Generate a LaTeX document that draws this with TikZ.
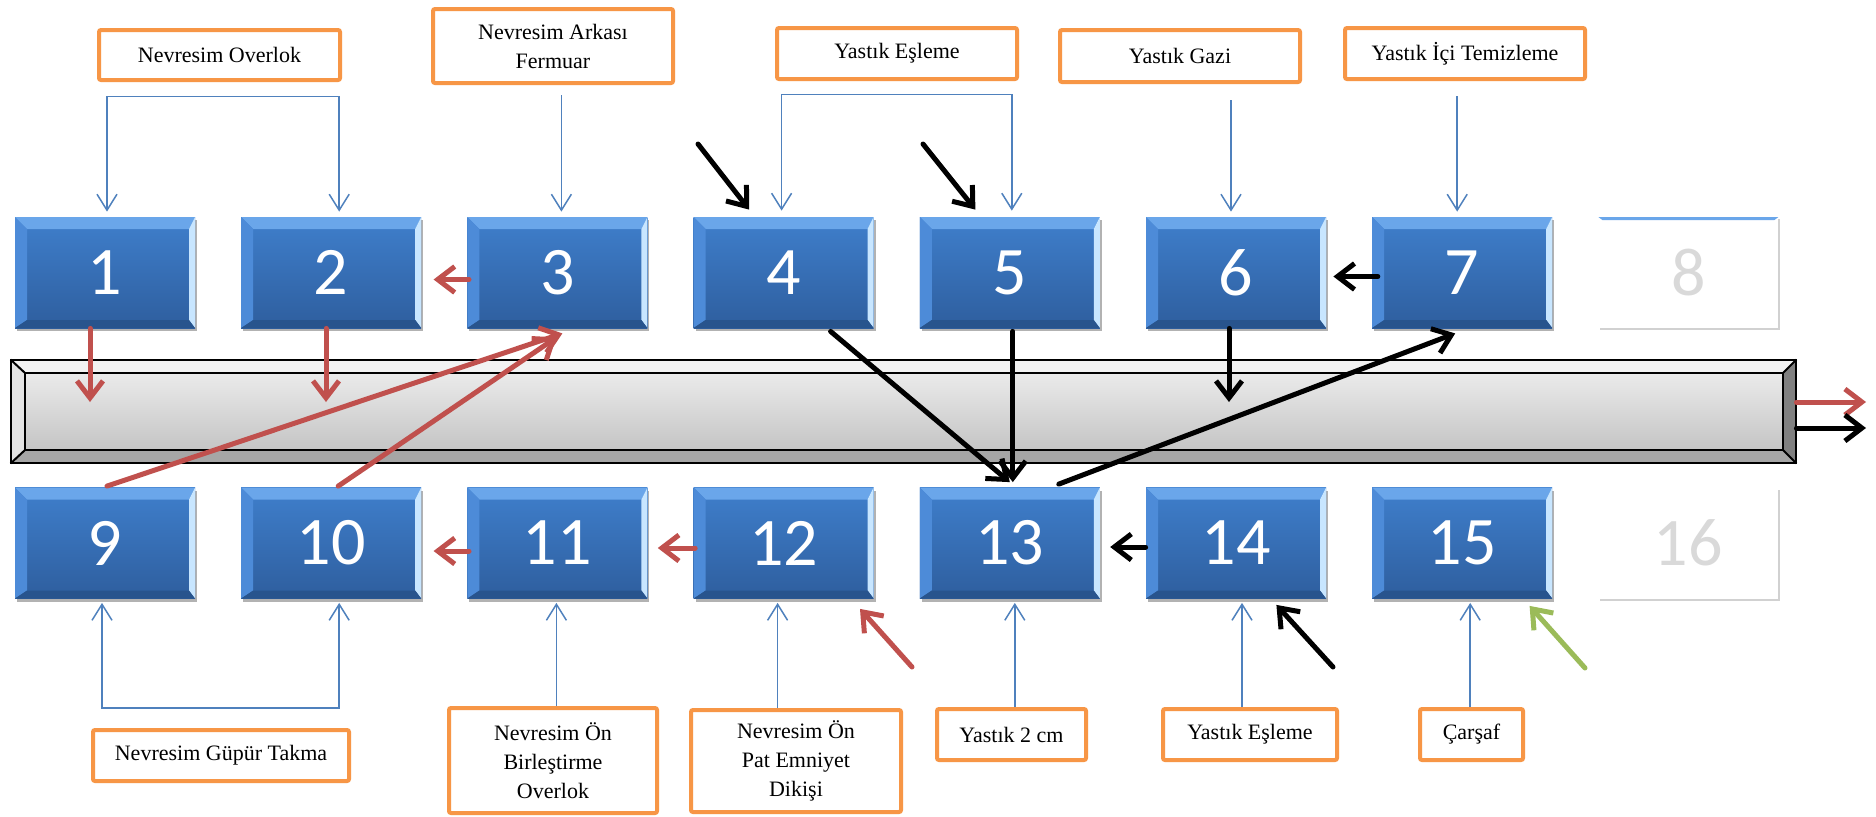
\documentclass[tikz,border=0pt]{standalone}
\usepackage{fontspec}
\setmainfont{Liberation Serif}
\newfontfamily\numfont{Carlito}
\usetikzlibrary{arrows.meta,calc,shadows}
\definecolor{orng}{HTML}{F79646}
\definecolor{redc}{HTML}{C0504D}
\definecolor{bluel}{HTML}{4F81BD}
\definecolor{greenc}{HTML}{9BBB59}
\definecolor{faceT}{HTML}{3F7FCC}
\definecolor{faceB}{HTML}{2E5E9E}
\definecolor{bevT}{HTML}{6AA6EA}
\definecolor{bevL}{HTML}{4D8BD8}
\definecolor{bevR}{HTML}{C8E6FF}
\definecolor{bevB}{HTML}{28548D}
\definecolor{numgray}{HTML}{D9D9D9}
\tikzset{
  bluebox/.style={rectangle, minimum width=90pt, minimum height=55.5pt, inner sep=0pt,
    top color=faceT, bottom color=faceB, text=white,
    font=\numfont\fontsize{34}{34}\selectfont,
    drop shadow={shadow xshift=1pt, shadow yshift=-1.5pt, opacity=0.3, fill=black},
    path picture={
      \path (path picture bounding box.north west) coordinate (pA)
            (path picture bounding box.north east) coordinate (pB)
            (path picture bounding box.south east) coordinate (pC)
            (path picture bounding box.south west) coordinate (pD);
      \fill[bevT] (pA) -- (pB) -- ($(pB)+(-3pt,-6pt)$) -- ($(pA)+(6pt,-6pt)$) -- cycle;
      \fill[bevL] (pA) -- ($(pA)+(6pt,-6pt)$) -- ($(pD)+(6pt,4pt)$) -- (pD) -- cycle;
      \fill[bevR] (pB) -- (pC) -- ($(pC)+(-3pt,4pt)$) -- ($(pB)+(-3pt,-6pt)$) -- cycle;
      \fill[bevB] (pD) -- (pC) -- ($(pC)+(-3pt,4pt)$) -- ($(pD)+(6pt,4pt)$) -- cycle;
    }},
  whitebox/.style={rectangle, minimum width=90pt, minimum height=55.5pt, inner sep=0pt,
    fill=white, text=numgray, font=\numfont\fontsize{34}{34}\selectfont,
    drop shadow={shadow xshift=0.8pt, shadow yshift=-1.2pt, opacity=0.18, fill=black}},
  topbar/.style={path picture={
      \path (path picture bounding box.north west) coordinate (pA)
            (path picture bounding box.north east) coordinate (pB);
      \fill[bevT] (pA) -- (pB) -- ($(pB)+(-2pt,-1.5pt)$) -- ($(pA)+(2pt,-1.5pt)$) -- cycle;}},
  lab/.style={draw=orng, line width=2pt, rounded corners=1pt, fill=white, align=center,
    inner sep=2pt, font=\fontsize{11}{14.5}\selectfont},
  redarr/.style={draw=redc, line width=2.5pt, line cap=round, -{Straight Barb[length=8.5pt,width=13pt]}},
  blackarr/.style={draw=black, line width=2.5pt, line cap=round, -{Straight Barb[length=8.5pt,width=13pt]}},
  greenarr/.style={draw=greenc, line width=2.5pt, line cap=round, -{Straight Barb[length=8.5pt,width=13pt]}},
  blueone/.style={draw=bluel, line width=0.75pt, -{Straight Barb[length=8pt,width=10pt]}},
  bluebi/.style={draw=bluel, line width=0.75pt, {Straight Barb[length=8pt,width=10pt]}-{Straight Barb[length=8pt,width=10pt]}},
}
\begin{document}
\begin{tikzpicture}[x=0.5pt,y=-0.5pt]
\useasboundingbox[fill=white] (0,0) rectangle (1876,816);

% conveyor
\node[minimum width=892.5pt, minimum height=51.5pt, inner sep=0pt] (conv) at (903.5,411.5) {};
\coordinate (ia) at ($(conv.north west)+(14,13)$);
\coordinate (ib) at ($(conv.north east)+(-13,13)$);
\coordinate (ic) at ($(conv.south east)+(-13,-13)$);
\coordinate (id) at ($(conv.south west)+(14,-13)$);
\fill[black!5] (conv.north west) -- (conv.north east) -- (ib) -- (ia) -- cycle;
\fill[black!11] (conv.north west) -- (ia) -- (id) -- (conv.south west) -- cycle;
\fill[black!50] (conv.north east) -- (conv.south east) -- (ic) -- (ib) -- cycle;
\fill[black!35] (conv.south west) -- (conv.south east) -- (ic) -- (id) -- cycle;
\shade[top color=black!8, bottom color=black!23] (ia) rectangle (ic);
\draw[line width=1pt] (conv.north west) rectangle (conv.south east);
\draw[line width=1pt] (ia) rectangle (ic);
\draw[line width=1pt] (conv.north west) -- (ia) (conv.north east) -- (ib)
  (conv.south east) -- (ic) (conv.south west) -- (id);

% boxes
\node[bluebox] (b1) at (105,272.5) {1};
\node[bluebox] (b2) at (331.2,272.5) {2};
\node[bluebox] (b3) at (557.4,272.5) {3};
\node[bluebox] (b4) at (783.6,272.5) {4};
\node[bluebox] (b5) at (1009.8,272.5) {5};
\node[bluebox] (b6) at (1236,272.5) {6};
\node[bluebox] (b7) at (1462.2,272.5) {7};
\node[whitebox,topbar] (b8) at (1688.4,272.5) {8};
\node[bluebox] (b9) at (105,543) {9};
\node[bluebox] (b10) at (331.2,543) {10};
\node[bluebox] (b11) at (557.4,543) {11};
\node[bluebox] (b12) at (783.6,543) {12};
\node[bluebox] (b13) at (1009.8,543) {13};
\node[bluebox] (b14) at (1236,543) {14};
\node[bluebox] (b15) at (1462.2,543) {15};
\node[whitebox] (b16) at (1688.4,543) {16};

% labels
\node[lab, minimum width=120.5pt, minimum height=25pt] (L1) at (219.5,55) {Nevresim Overlok};
\node[lab, minimum width=120pt, minimum height=37pt] (L2) at (553,46) {Nevresim Arkası\\Fermuar};
\node[lab, minimum width=120pt, minimum height=25.5pt] (L3) at (897,53.5) {Yastık Eşleme};
\node[lab, minimum width=120pt, minimum height=26pt] (L4) at (1180,56) {Yastık Gazi};
\node[lab, minimum width=120pt, minimum height=25.5pt] (L5) at (1465,53.5) {Yastık İçi Temizleme};
\node[lab, minimum width=128pt, minimum height=25.5pt] (L6) at (221,755.5) {Nevresim Güpür Takma};
\node[lab, minimum width=104pt, minimum height=52.5pt] (L7) at (553,760.5) {Nevresim Ön\\Birleştirme\\Overlok};
\node[lab, minimum width=105pt, minimum height=51pt] (L8) at (796,761) {Nevresim Ön\\Pat Emniyet\\Dikişi};
\node[lab, minimum width=74.5pt, minimum height=25.5pt] (L9) at (1011.5,734.5) {Yastık 2 cm};
\node[lab, minimum width=87pt, minimum height=25.5pt] (L10) at (1250,734.5) {Yastık Eşleme};
\node[lab, minimum width=51.5pt, minimum height=25.5pt] (L11) at (1471.5,734.5) {Çarşaf};

% blue connectors top
\draw[bluebi] ($(b1.north)+(2,-5)$) -- ++(0,-115) -| ($(b2.north)+(8,-5)$);
\draw[blueone] ($(b3.north |- L2.south)+(4,10)$) -- ($(b3.north)+(4,-5)$);
\draw[bluebi] ($(b4.north)+(-2,-6)$) -- ++(0,-116) -| ($(b5.north)+(2,-6)$);
\draw[blueone] ($(b6.north |- L4.south)+(-5,16)$) -- ($(b6.north)+(-5,-5)$);
\draw[blueone] ($(b7.north |- L5.south)+(-5,15)$) -- ($(b7.north)+(-5,-5)$);

% blue connectors bottom
\draw[bluebi] ($(b9.south)+(-3,4)$) -- ++(0,105) -| ($(b10.south)+(8,4)$);
\draw[blueone] ($(b11.south |- L7.north)+(-1,0)$) -- ($(b11.south)+(-1,4)$);
\draw[blueone] ($(b12.south |- L8.north)+(-6,0)$) -- ($(b12.south)+(-6,4)$);
\draw[blueone] ($(b13.south |- L9.north)+(5,0)$) -- ($(b13.south)+(5,4)$);
\draw[blueone] ($(b14.south |- L10.north)+(6,0)$) -- ($(b14.south)+(6,4)$);
\draw[blueone] ($(b15.south |- L11.north)+(8,0)$) -- ($(b15.south)+(8,4)$);

% free ends
\coordinate (k4) at (698,144);
\coordinate (k5) at (923,144);
\coordinate (d1) at (90,402);
\coordinate (d2) at (326,402);
\coordinate (d6) at (1229,402);
\coordinate (o1) at (1866,402);
\coordinate (o2) at (1866,428);
\coordinate (k12) at (912,667);
\coordinate (k14) at (1333,667);
\coordinate (k15) at (1585,668);

% top row arrows
\draw[blackarr] (k4) -- ($(b4.north west)+(56,-7)$);
\draw[blackarr] (k5) -- ($(b5.north west)+(56,-7)$);
\draw[redarr] ($(b3.west)+(2,7)$) -- ($(b2.east)+(12,7)$);
\draw[blackarr] ($(b7.west)+(6,4)$) -- ($(b6.east)+(7,4)$);
\draw[redarr] (b1.south -| d1) -- (d1);
\draw[redarr] (b2.south -| d2) -- (d2);
\draw[blackarr] (b6.south -| d6) -- (d6);

% cross arrows
\draw[blackarr] ($(b4.south)+(47,3)$) -- ($(b13.north)+(0,-5)$);
\draw[blackarr] ($(b5.south)+(3,3)$) -- ($(b13.north)+(3,-5)$);
\draw[blackarr] ($(b13.north)+(49,-3)$) -- ($(b7.south)+(-7,5)$);
\draw[redarr] ($(b9.north)+(2,-1)$) -- ($(b3.south)+(5,5)$);
\draw[redarr] ($(b10.north)+(7,-1)$) -- ($(b3.south)+(-1,9)$);

% bottom row arrows
\draw[redarr] ($(b11.west)+(2,8)$) -- ($(b10.east)+(12,8)$);
\draw[redarr] ($(b12.west)+(2,5)$) -- ($(b11.east)+(10,5)$);
\draw[blackarr] ($(b14.west)+(0,4)$) -- ($(b13.east)+(10,4)$);
\draw[redarr] (k12) -- ($(b12.south east)+(-14,10)$);
\draw[blackarr] (k14) -- ($(b14.south east)+(-50,6)$);
\draw[greenarr] (k15) -- ($(b15.south east)+(-23,7)$);

% outputs
\draw[redarr] (conv.east |- o1) -- (o1);
\draw[blackarr] (conv.east |- o2) -- (o2);
\end{tikzpicture}
\end{document}
